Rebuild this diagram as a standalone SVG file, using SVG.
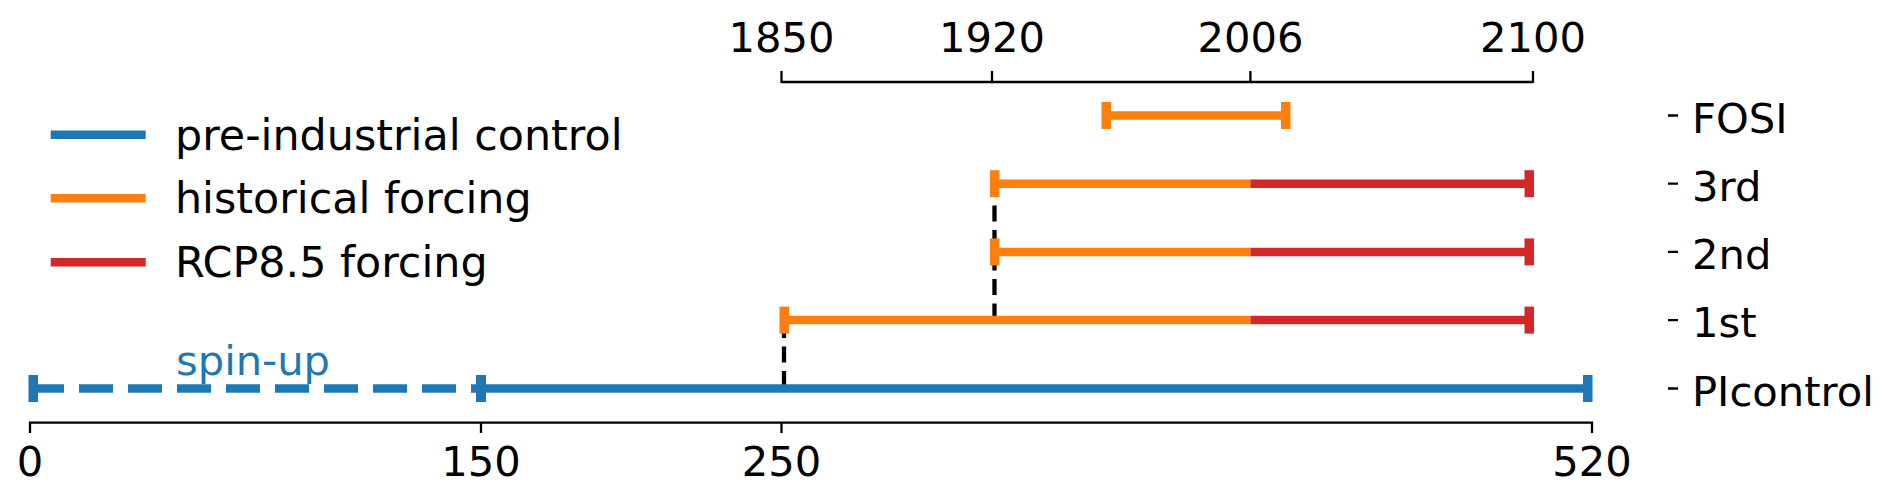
<svg xmlns="http://www.w3.org/2000/svg" width="1892" height="497" viewBox="0 0 1892 497">
<style>
text { font-family: "DejaVu Sans", "Liberation Sans", sans-serif; font-size: 41.67px; fill: #000; }
.tick { text-anchor: middle; }
.leg { font-size: 42.8px; }
.bar { stroke-width: 8.5; fill: none; stroke-linecap: butt; }
.b { stroke: #1f77b4; }
.o { stroke: #ff7f0e; }
.r { stroke: #d62728; }
.cb { fill: #1f77b4; }
.co { fill: #ff7f0e; }
.cr { fill: #d62728; }
.ax { stroke: #000; stroke-width: 2.3; fill: none; }
.conn { stroke: #000; stroke-width: 4.3; stroke-dasharray: 16 8.5; fill: none; }
</style>
<rect width="1892" height="497" fill="#ffffff"/>

<g id="top-axis">
  <path class="ax" d="M781.5 82 H1533 M781.5 71 V83 M992 71 V83 M1250.4 71 V83 M1533 71 V83"/>
  <text class="tick" x="781.5" y="52">1850</text>
  <text class="tick" x="992" y="52">1920</text>
  <text class="tick" x="1250.4" y="52">2006</text>
  <text class="tick" x="1533" y="52">2100</text>
</g>

<g id="bottom-axis">
  <path class="ax" d="M30 422.7 H1592 M30 421.6 V433 M481 421.6 V433 M781.5 421.6 V433 M1592 421.6 V433"/>
  <text class="tick" x="30" y="476">0</text>
  <text class="tick" x="481" y="476">150</text>
  <text class="tick" x="781.5" y="476">250</text>
  <text class="tick" x="1592" y="476">520</text>
</g>

<g id="legend">
  <line class="bar b" x1="50.7" y1="134.7" x2="145.7" y2="134.7"/>
  <text class="leg" x="175" y="149.5">pre-industrial control</text>
  <line class="bar o" x1="50.7" y1="198.3" x2="145.7" y2="198.3"/>
  <text class="leg" x="175" y="213.1">historical forcing</text>
  <line class="bar r" x1="50.7" y1="262.3" x2="145.7" y2="262.3"/>
  <text class="leg" x="175" y="277.1">RCP8.5 forcing</text>
</g>

<g id="connectors">
  <line class="conn" x1="994.5" y1="181" x2="994.5" y2="318"/>
  <line class="conn" x1="784" y1="322" x2="784" y2="386"/>
</g>

<g id="FOSI">
  <line class="bar o" x1="1106" y1="115.5" x2="1286" y2="115.5"/>
  <rect class="co" x="1101.5" y="102" width="9.5" height="27"/>
  <rect class="co" x="1281" y="102" width="9.5" height="27"/>
</g>

<g id="run3">
  <line class="bar o" x1="995" y1="183.7" x2="1250.4" y2="183.7"/>
  <line class="bar r" x1="1250.4" y1="183.7" x2="1529" y2="183.7"/>
  <rect class="co" x="990" y="170.2" width="9.5" height="27"/>
  <rect class="cr" x="1524.5" y="170.2" width="9.5" height="27"/>
</g>

<g id="run2">
  <line class="bar o" x1="995" y1="251.9" x2="1250.4" y2="251.9"/>
  <line class="bar r" x1="1250.4" y1="251.9" x2="1529" y2="251.9"/>
  <rect class="co" x="990" y="238.4" width="9.5" height="27"/>
  <rect class="cr" x="1524.5" y="238.4" width="9.5" height="27"/>
</g>

<g id="run1">
  <line class="bar o" x1="785" y1="320.1" x2="1250.4" y2="320.1"/>
  <line class="bar r" x1="1250.4" y1="320.1" x2="1529" y2="320.1"/>
  <rect class="co" x="779.5" y="306.6" width="9.5" height="27"/>
  <rect class="cr" x="1524.5" y="306.6" width="9.5" height="27"/>
</g>

<g id="PIcontrol">
  <line class="bar b" x1="30" y1="388.5" x2="481" y2="388.5" stroke-dasharray="34 15"/>
  <line class="bar b" x1="481" y1="388.5" x2="1588" y2="388.5"/>
  <rect class="cb" x="28.5" y="375" width="9.5" height="27"/>
  <rect class="cb" x="476" y="375" width="10" height="27"/>
  <rect class="cb" x="1583" y="375" width="9.5" height="27"/>
  <text x="176" y="375" style="fill:#1f77b4">spin-up</text>
</g>

<g id="row-labels">
  <path class="ax" d="M1668 115.5 H1678 M1668 183.7 H1678 M1668 251.9 H1678 M1668 320.1 H1678 M1668 388.5 H1678"/>
  <text x="1692" y="132.5">FOSI</text>
  <text x="1692" y="200.7">3rd</text>
  <text x="1692" y="268.9">2nd</text>
  <text x="1692" y="337.1">1st</text>
  <text x="1692" y="405.5">PIcontrol</text>
</g>
</svg>
